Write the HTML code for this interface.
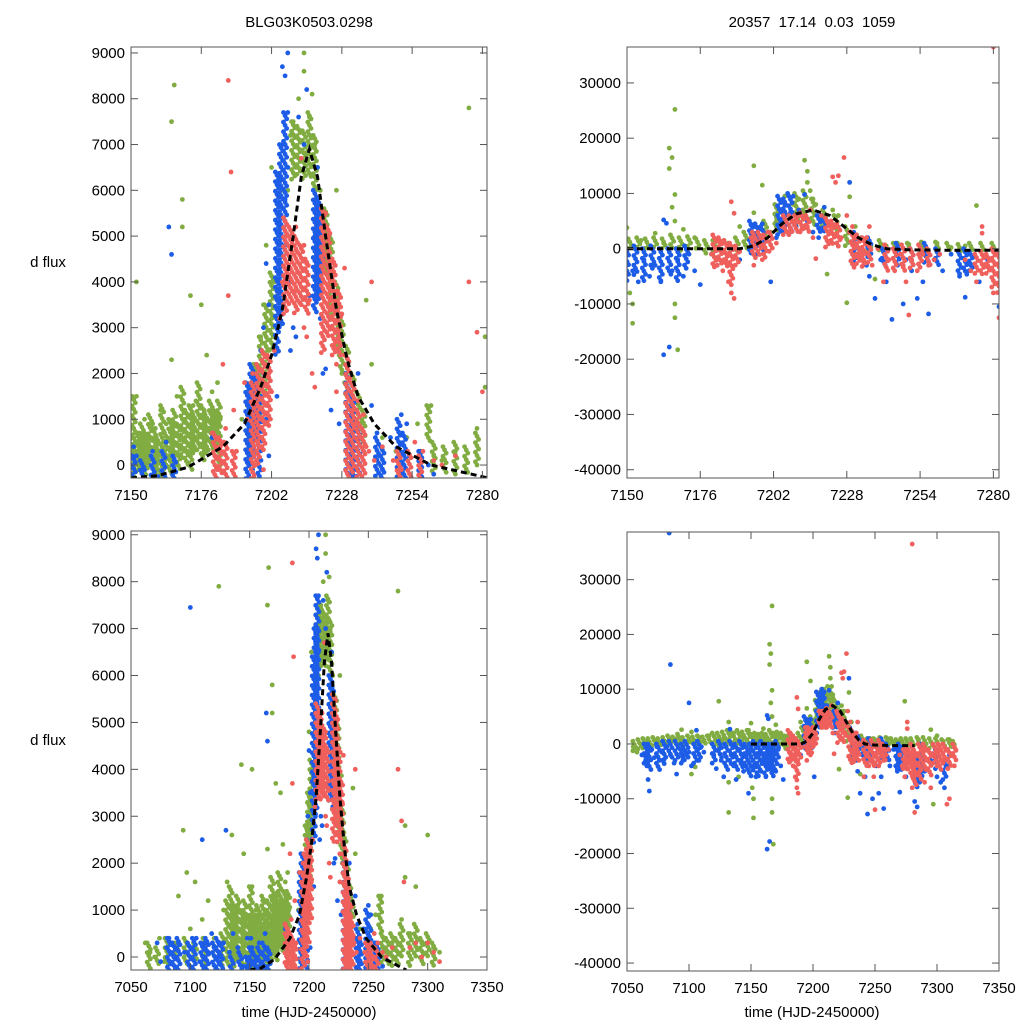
<!DOCTYPE html>
<html><head><meta charset="utf-8"><style>
html,body{margin:0;padding:0;background:#fff;}
svg{display:block;font-family:"Liberation Sans",sans-serif;}
</style></head><body>
<svg id="fig" width="1024" height="1024" viewBox="0 0 1024 1024">
<text x="309" y="27" font-size="15" text-anchor="middle">BLG03K0503.0298</text>
<text x="812" y="27" font-size="15" text-anchor="middle" xml:space="preserve">20357  17.14  0.03  1059</text>
<text x="48" y="267" font-size="15" text-anchor="middle">d flux</text>
<text x="48" y="745" font-size="15" text-anchor="middle">d flux</text>
<text x="309" y="1017" font-size="15" text-anchor="middle">time (HJD-2450000)</text>
<text x="812" y="1017" font-size="15" text-anchor="middle">time (HJD-2450000)</text>
</svg>
<script>
const xTicksZoom=[7150,7176,7202,7228,7254,7280];
const xTicksFull=[7050,7100,7150,7200,7250,7300,7350];
const yTicksFlux=[0,1000,2000,3000,4000,5000,6000,7000,8000,9000];
const yTicksOther=[-40000,-30000,-20000,-10000,0,10000,20000,30000];

const greenFlux=[7062,300,7066,100,7070,0,7074,400,7078,-100,7085,300,7090,1300,7094,2700,7097,1800,7100,600,7104,1600,7110,800,7115,1200,7120,400,7124,7900,7128,1000,7131,1600,7135,2600,7138,600,7140,1100,7143,4100,7145,2200,7148,800,
7151,300,7152,1500,7153,700,7154,200,7155,1000,7156,400,7157,600,7158,100,7159,800,7160,300,7161,1200,7162,500,7163,900,7164,200,7165,2300,7166,700,7167,1500,7168,400,7169,5800,7169,5200,7170,1000,7171,300,7172,3700,7173,1300,7174,600,7175,900,7176,3500,7177,1200,7178,2400,7179,800,7180,1600,7181,500,7182,1800,7183,1000,7165,7500,7166,8300,7152,4000,7160,200,7158,900,7163,0,7170,600,7174,1400,7178,300,
7193,1300,7195,2000,7196,800,7198,2800,7199,3500,7200,4800,7201,2500,7202,3200,7203,4000,7204,3700,7205,5000,7206,6000,7207,7000,7208,6000,7209,7200,7210,7500,7211,6500,7212,8000,7213,7300,7214,8600,7214,9000,7215,6800,7216,7600,7217,8100,7218,7000,7219,6500,7220,6000,7221,5500,7222,5000,7223,4300,7224,3800,7225,3300,7226,2900,7227,2400,7228,2000,7229,1800,7231,1500,7233,1200,7235,900,7237,3600,7239,2200,7243,600,7248,300,7252,600,7256,900,7261,1300,7262,200,7265,100,7270,300,7275,7800,7278,800,7281,2800,7281,1700,7285,500,7290,1500,7295,300,7300,2600,7305,200,7310,100,7202,6500,7220,6000,7226,6000,7189,300,7191,1000];
const blueFlux=[7072,300,7075,-100,7080,200,7082,400,7086,0,7090,300,7095,100,7100,7450,7102,200,7105,400,7108,-100,7110,2500,7112,300,7115,100,7118,500,7120,200,7125,0,7128,300,7130,2700,7133,100,7136,500,7140,200,7145,-200,7148,400,7150,-200,7151,400,7152,200,7155,-100,7158,300,7160,-250,7163,500,7164,5200,7165,4600,7166,100,7180,600,7181,200,7182,-100,7196,300,7197,800,7198,1500,7198,2500,7199,3000,7199,2000,7200,4400,7200,1000,7201,3500,7201,200,7205,5200,7205,6200,7206,7000,7206,8700,7207,8500,7207,5800,7207,4800,7208,9000,7208,6500,7208,7700,7209,4000,7209,2500,7210,3000,7211,2800,7212,7600,7214,7000,7215,8200,7216,3700,7218,5000,7219,4000,7219,6500,7220,5500,7220,3200,7221,4500,7221,2000,7224,1200,7227,900,7230,1600,7231,500,7231,0,7232,-200,7233,1000,7234,2000,7236,300,7241,700,7242,200,7243,-100,7246,600,7250,1100,7252,900,7253,200,7257,300,7260,0,7262,-200,7195,-100,7204,1500,7204,3800,7222,2100,7239,1300];
const redFlux=[7180,700,7181,200,7182,-100,7183,400,7184,2200,7185,800,7186,8400,7186,3700,7187,6400,7188,1200,7189,300,7192,1800,7195,2000,7196,0,7197,500,7198,1000,7199,-100,7200,1300,7201,2000,7202,1600,7203,2500,7205,3200,7206,4000,7207,4300,7208,5000,7209,4500,7210,3800,7211,5200,7211,4700,7212,4200,7213,3500,7213,6700,7214,4800,7214,3000,7215,4400,7215,2800,7216,3600,7217,2000,7218,1700,7222,5500,7222,4600,7223,5000,7223,3900,7224,3000,7224,4400,7225,2600,7225,3500,7226,2200,7226,1600,7227,2800,7228,3300,7229,2400,7229,4300,7231,1900,7232,1200,7233,900,7234,1400,7235,600,7236,1100,7237,400,7238,300,7239,4000,7240,100,7243,400,7247,100,7250,-100,7255,500,7258,300,7262,100,7265,0,7270,200,7275,4000,7278,2900,7280,1600,7285,200,7290,300,7295,0,7300,300,7305,100,7310,-100,7193,1000];

const greenFluxRanges=[7151,-250,1500,7152.5,-200,700,7154,-100,900,7155.5,-250,700,7157,0,1100,7158.5,-200,800,7160,-100,600,7161.5,-250,1300,7163,0,700,7164.5,-200,1000,7166,0,1200,7167.5,-100,900,7169,100,1700,7170.5,0,1200,7172,-100,1300,7173.5,200,1100,7175,300,1800,7176.5,100,1300,7178,200,1100,7179.5,400,1400,7181,300,1200,7182.5,0,1400,
7065,-300,300,7072,-200,200,7080,-200,400,7088,-100,300,7096,-200,400,7104,-100,300,7112,-200,400,7120,-100,300,7127,-200,500,7131,-200,1200,7134,-100,1500,7137,-200,1100,7140,0,1300,7143,-200,1000,7146,0,1200,7149,-200,900,
7196,500,2200,7198,1000,2800,7200,1500,3500,7202,2500,4200,7210,6200,7500,7212,6300,7400,7214,6200,7300,7216,6300,7700,7218,6000,7200,7222,4200,5600,7224,3200,5000,7226,2600,4000,7228,2000,3200,7230,1500,2600,7232,1200,2000,7234,800,1600,7236,400,1200,7260,500,1300,7262,-200,500,7266,-200,400,7270,-200,500,7274,-200,400,7278,0,700,7285,-200,500,7290,0,700,7295,-200,400,7300,0,500,7305,-200,300];
const blueFluxRanges=[7151,-300,200,7154,-300,100,7158,-300,200,7162,-300,300,7166,-300,200,7193,-300,1800,7194.5,0,2200,7196,500,2000,7197.5,-300,1500,7204,2400,6400,7205.5,3000,7000,7207,4500,7700,7218,3300,6000,7219.5,3600,5800,7230,-300,2000,7232,-300,1500,7234,-300,800,7241,-300,600,7243,-300,400,7249,-300,1000,7251,-300,700,7257,-300,300,
7082,-300,400,7086,-300,300,7090,-300,400,7099,-300,300,7103,-300,400,7110,-300,300,7114,-300,400,7120,-300,300,7123,-300,400,7126,-300,300,7135,-300,0,7142,-300,100,7148,-300,0];
const redFluxRanges=[7181,-300,700,7183,-200,600,7185,-300,500,7188,-300,300,7195,-300,1800,7197,0,2200,7199,300,2500,7201,800,2400,7207,3300,5400,7209,3500,5200,7211,3300,5000,7213,3500,4800,7215,3300,4500,7221,2400,5600,7223,2800,5200,7225,2400,4500,7227,2400,3800,7230,-300,2400,7232,-200,1800,7234,-300,1200,7236,-300,800,7249,-300,300,7253,-300,300,7257,-300,200];

const modelFluxT=[7150,7160,7171,7184,7192,7198,7202,7206,7210,7213,7216,7219,7222,7226,7230,7234,7240,7248,7261,7276,7282];
const modelFluxV=[-280,-230,-50,400,900,1700,2400,3400,5000,6300,6900,6300,5000,3400,2300,1500,900,400,0,-200,-280];

const greenOther=[7055,-500,7058,-1500,7062,0,7066,500,7070,-300,7074,800,7078,200,7082,-200,7086,600,7090,1000,7094,2600,7098,300,7102,2200,7102,-5500,7105,-4200,7108,1200,7112,500,7116,1500,7120,-300,7124,7800,7128,1000,7132,4000,7132,-7000,7132,-12500,7136,2000,7140,-6000,7144,1200,7148,2500,7150,3800,7151,-8000,7152,-13500,7152,-10000,7155,1500,7158,500,7160,2800,7163,1000,7165,18200,7166,16500,7165,14500,7167,25200,7167,9800,7166,7500,7167,5000,7167,-10000,7167,-12500,7168,-18300,7170,3500,7174,2000,7178,800,7182,300,7186,1000,7190,4000,7195,15000,7195,6500,7198,11500,7201,3000,7203,5000,7206,9500,7209,8000,7211,9000,7213,16000,7214,14000,7214,12000,7215,10500,7216,9000,7217,8000,7219,4000,7221,-4600,7223,7000,7225,6000,7228,-9800,7229,9400,7231,4000,7233,2000,7235,1000,7238,-5500,7242,500,7246,1000,7250,800,7255,300,7260,1000,7265,200,7270,500,7274,7800,7280,0,7285,800,7290,-500,7295,2600,7297,-11000,7300,1500,7305,500,7310,800,7312,-500];
const blueOther=[7062,-2000,7065,-3000,7066,-4000,7067,-6500,7068,-8600,7070,-1000,7072,-2500,7074,-500,7076,-3000,7078,-1500,7080,-2800,7082,-500,7084,38500,7085,14500,7085,-2000,7088,-3500,7090,-5500,7093,-1000,7095,-3000,7097,-2000,7100,7500,7100,-1500,7102,-4000,7106,2500,7107,-1000,7108,-3000,7110,-500,7112,-1500,7120,-2000,7122,-4500,7124,-1000,7126,-3000,7128,-6000,7130,-500,7133,2700,7134,-2000,7136,-4000,7138,-6500,7140,-1000,7142,-3000,7144,-5000,7146,-2000,7148,-9000,7150,-1000,7152,-4000,7154,-6000,7156,-2000,7158,-5000,7160,-3000,7162,-6000,7163,5200,7164,4600,7163,-19200,7165,-17800,7166,-4000,7168,-2000,7170,-5000,7172,-1000,7174,-4000,7176,-6500,7180,-1000,7182,-3000,7185,-2000,7188,0,7190,-2000,7194,4300,7196,-1000,7198,4500,7201,-6000,7203,2000,7205,5000,7206,8000,7207,10000,7208,6500,7209,9500,7210,4000,7211,7000,7213,9800,7214,5000,7216,3000,7218,2000,7219,6000,7220,7500,7229,12000,7233,-1000,7235,-3000,7236,-5000,7238,-9000,7240,-2000,7242,-6000,7244,-12800,7246,-3000,7248,-10000,7249,-2000,7251,-4000,7253,-9000,7255,-6000,7257,-11800,7259,-2000,7262,-4000,7265,-1000,7268,-5000,7270,-8800,7272,-3000,7275,-6000,7278,-2000,7280,-42000,7282,-10500,7284,-11500,7286,-7000,7288,-3000,7290,-5000,7295,-3000,7300,-6000,7303,-7000,7306,-8000,7308,-4000,7310,-2000];
const redOther=[7180,-1000,7182,-3000,7183,1000,7184,-4000,7185,-2000,7186,-6000,7187,-8000,7188,-9000,7187,8500,7188,6400,7190,-500,7194,2000,7195,-3000,7197,1000,7198,-2000,7200,3000,7203,1000,7205,4000,7207,3000,7209,5000,7211,6000,7212,3500,7213,5500,7214,4000,7215,7000,7216,2000,7217,-1800,7219,6000,7221,5000,7222,4000,7223,13000,7224,12000,7225,13200,7226,2000,7227,16500,7228,6000,7229,3000,7230,4000,7231,1000,7233,-1000,7234,-2500,7235,2000,7236,4000,7237,-3000,7239,0,7241,-6000,7243,-2000,7245,-4000,7247,-1000,7248,-3000,7249,-6000,7250,-12000,7251,-2000,7253,-4000,7255,-1000,7257,-3000,7259,-2000,7261,-1000,7270,-2000,7272,-4000,7274,-6000,7276,4000,7276,2800,7278,-3000,7280,36500,7280,-8000,7282,-12500,7284,-2000,7286,-5000,7288,-1000,7290,-7000,7292,-3000,7295,-8000,7298,-2000,7300,-4000,7302,-1000,7305,-3000,7308,-11000,7310,-10000,7312,-2000,7314,-4000,7315,-1000];

const greenOtherRanges=[7056,-1500,500,7060,-1000,800,7064,-800,1000,7068,-500,1000,7072,-500,1200,7076,-300,1000,7080,-500,1200,7084,0,1500,7088,-300,1300,7092,0,1800,7096,-300,1200,7100,0,1500,7104,-300,1300,7108,0,1500,7112,-300,1300,7116,0,1500,7120,0,2000,7124,-500,2000,7128,0,2200,7132,0,2500,7136,-500,2000,7140,0,2500,7144,0,2200,7148,-500,2500,7151,-500,1800,7154,0,2000,7157,-500,1800,7160,0,2000,7163,-500,1800,7166,0,2500,7169,-500,2000,7172,0,2200,7175,-500,1800,7178,-1000,1500,7181,-500,1500,7185,0,1500,7189,-500,2000,7192,0,3000,7199,1000,5000,7203,3000,8000,7210,4000,10000,7213,5000,10500,7216,4000,9000,7220,3000,7000,7224,2000,6000,7228,0,4000,7232,-1000,2500,7236,-1000,1500,7240,-500,1500,7245,-500,1000,7250,-500,1000,7255,-800,1200,7260,-500,1200,7264,-500,1000,7268,-500,800,7272,-500,1000,7276,-500,1000,7280,-500,1000,7285,-500,1200,7290,-500,1200,7295,-800,1000,7300,-500,1000,7305,-800,800,7310,-500,800,7314,-500,500];
const blueOtherRanges=[7065,-4000,0,7068,-5000,0,7075,-5000,0,7080,-4000,500,7085,-3000,500,7090,-3500,500,7095,-4000,0,7098,-3000,500,7105,-4000,0,7108,-3500,500,7120,-4000,0,7125,-3000,500,7130,-5000,0,7134,-4000,500,7138,-5000,0,7142,-4500,500,7146,-5000,0,7150,-6000,0,7153,-5000,500,7156,-6000,0,7159,-4000,500,7162,-6000,0,7165,-5000,0,7168,-6000,0,7171,-4000,500,7194,-1000,5000,7196,0,4500,7198,-1000,4000,7204,2500,9500,7206,3000,9000,7208,2500,9500,7218,3000,6000,7220,3000,5500,7231,-2500,3000,7236,-2000,2000,7241,-3000,0,7246,-3000,1000,7251,-3000,0,7256,-3000,1000,7260,-3000,0,7268,-5000,-500,7270,-5000,0,7272,-4000,-500,7284,-8000,-2000,7288,-6000,0,7300,-5000,-1000,7306,-7000,-3000];
const redOtherRanges=[7181,-3500,2500,7183,-3000,2000,7185,-3500,1500,7187,-7000,1000,7189,-3500,500,7195,-2000,3000,7197,-1500,3000,7199,-2000,2500,7201,-1000,3000,7206,2500,6000,7208,2500,6000,7210,3000,6000,7212,2500,6500,7214,3000,6000,7221,0,5500,7223,500,5000,7225,0,4500,7230,-3500,3000,7232,-3000,2500,7234,-3500,2000,7236,-3000,1000,7242,-4000,700,7245,-4000,0,7248,-4000,700,7251,-4000,0,7254,-3500,700,7257,-3000,0,7274,-5000,-1000,7276,-5000,-500,7278,-5000,-1000,7280,-7000,0,7282,-8000,-1000,7286,-7000,0,7290,-5000,0,7294,-6000,-1000,7298,-4000,0,7302,-5000,0,7306,-4000,0,7310,-5000,-1000,7314,-3000,0];

const modelOtherT=[7150,7170,7190,7195,7200,7205,7210,7216,7222,7227,7232,7237,7242,7250,7265,7282];
const modelOtherV=[0,0,0,500,2000,4500,6300,7000,6000,4000,2000,700,0,-200,-300,-300];

const NS='http://www.w3.org/2000/svg';
const svg=document.getElementById('fig');
const COL={green:'#80ac42',blue:'#1c5ce6',red:'#ef605c'};
function mk(tag,attrs,parent){const e=document.createElementNS(NS,tag);for(const k in attrs)e.setAttribute(k,attrs[k]);(parent||svg).appendChild(e);return e;}

function panel(id,box,xd,yd,xt,yt,series,ranges,mT,mV,curveRange){
  const sx=v=>box.x0+(v-xd[0])/(xd[1]-xd[0])*(box.x1-box.x0);
  const sy=v=>box.y1-(v-yd[0])/(yd[1]-yd[0])*(box.y1-box.y0);
  const cp=mk('clipPath',{id:'clip-'+id});
  mk('rect',{x:box.x0,y:box.y0,width:box.x1-box.x0,height:box.y1-box.y0},cp);
  const g=mk('g',{'clip-path':'url(#clip-'+id+')'});
  
  
  ['green','blue','red'].forEach(c=>{
    const sg=mk('g',{fill:COL[c]},g);
    
    
    const r=ranges[c];
    for(let i=0;i<r.length;i+=3){
      const x=sx(r[i]),ya=sy(r[i+2]),yb=sy(r[i+1]);
      let k=0;
      for(let y=ya;y<=yb;y+=3.2){
        const p=mk('circle',{cx:x+((k%3)-1)*1.6,cy:y,r:2.4},sg);
        
        
        k++;
      }
    }
    const d=series[c];
    for(let i=0;i<d.length;i+=2){
      const p=mk('circle',{cx:sx(d[i]),cy:sy(d[i+1]),r:2.4},sg);
      
      
    }
  });
  let pts=mT.map((t,i)=>sx(t).toFixed(1)+','+sy(mV[i]).toFixed(1)).join(' ');
  const m=mk('polyline',{points:pts,fill:'none',stroke:'#000','stroke-width':3,'stroke-dasharray':'6,4'},g);
  
  
  const fr=mk('rect',{x:box.x0,y:box.y0,width:box.x1-box.x0,height:box.y1-box.y0,fill:'none',stroke:'#555','stroke-width':1});
  
  
  xt.forEach(v=>{
    const x=sx(v);
    mk('line',{x1:x,x2:x,y1:box.y1,y2:box.y1-7,stroke:'#555'});
    mk('line',{x1:x,x2:x,y1:box.y0,y2:box.y0+7,stroke:'#555'});
    const t=mk('text',{x:x,y:box.y1+22,'font-size':15,'text-anchor':'middle'});
    t.textContent=v;
    
    
  });
  yt.forEach(v=>{
    const y=sy(v);
    mk('line',{x1:box.x0,x2:box.x0+7,y1:y,y2:y,stroke:'#555'});
    mk('line',{x1:box.x1,x2:box.x1-7,y1:y,y2:y,stroke:'#555'});
    const t=mk('text',{x:box.x0-6,y:y+5,'font-size':15,'text-anchor':'end'});
    t.textContent=v;
    
    
  });
}
const fluxS={green:greenFlux,blue:blueFlux,red:redFlux};
const fluxR={green:greenFluxRanges,blue:blueFluxRanges,red:redFluxRanges};
const othS={green:greenOther,blue:blueOther,red:redOther};
const othR={green:greenOtherRanges,blue:blueOtherRanges,red:redOtherRanges};
panel('top-left',{x0:131,x1:487,y0:47,y1:478},[7150,7281.7],[-283,9130],xTicksZoom,yTicksFlux,fluxS,fluxR,modelFluxT,modelFluxV);
panel('top-right',{x0:627,x1:999,y0:47,y1:478},[7150,7282],[-41500,36500],xTicksZoom,yTicksOther,othS,othR,modelOtherT,modelOtherV);
panel('bottom-left',{x0:131,x1:487,y0:531,y1:970},[7050,7350],[-277,9080],xTicksFull,yTicksFlux,fluxS,fluxR,modelFluxT,modelFluxV);
panel('bottom-right',{x0:627,x1:999,y0:532,y1:971},[7050,7350],[-41450,38700],xTicksFull,yTicksOther,othS,othR,modelOtherT,modelOtherV);
</script>
</body></html>
